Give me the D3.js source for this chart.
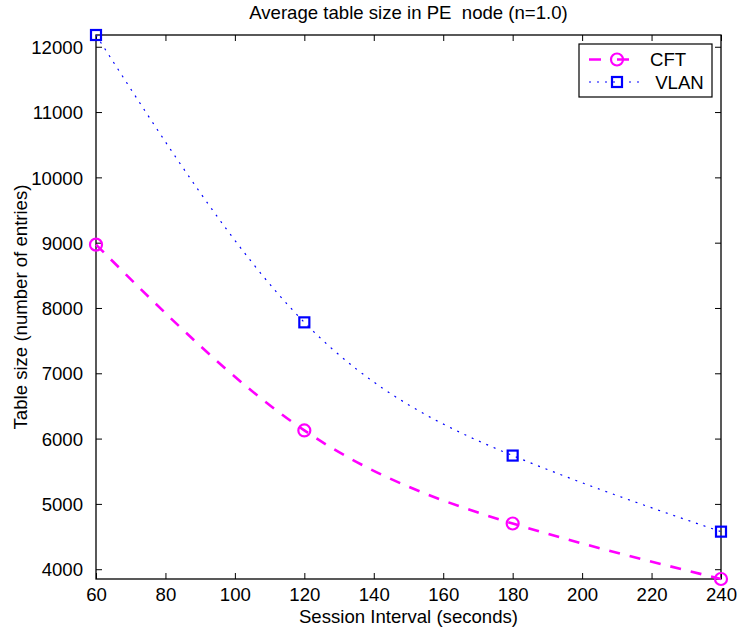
<!DOCTYPE html>
<html>
<head>
<meta charset="utf-8">
<script src="https://cdn.jsdelivr.net/npm/d3@7"></script>
<style>
  html, body { margin: 0; padding: 0; background: #fff; }
  svg { display: block; }
  text { font-family: "Liberation Sans", Arial, Helvetica, sans-serif; fill: #000; white-space: pre; }
</style>
</head>
<body>
<svg id="chart" width="738" height="634"></svg>
<script>
// ---- data ----
const sessionIntervals = [60, 120, 180, 240];
const cftValues  = [8970, 6125, 4700, 3850];
const vlanValues = [12180, 7780, 5740, 4575];
const seriesNames = ["CFT", " VLAN"];
const xTicks = [60, 80, 100, 120, 140, 160, 180, 200, 220, 240];
const yTicks = [4000, 5000, 6000, 7000, 8000, 9000, 10000, 11000, 12000];
const titleText = "Average table size in PE  node (n=1.0)";
const xLabelText = "Session Interval (seconds)";
const yLabelText = "Table size (number of entries)";

// ---- layout ----
const W = 738, H = 634;
const m = { left: 96, top: 35, right: 17, bottom: 55 };
const iw = W - m.left - m.right, ih = H - m.top - m.bottom;

const svg = d3.select("#chart");
const g = svg.append("g").attr("transform", `translate(${m.left},${m.top})`);

const x = d3.scaleLinear().domain([60, 240]).range([0, iw]);
const y = d3.scaleLinear().domain([d3.min(cftValues), d3.max(vlanValues)]).range([ih, 0]);

const fs = 18.6;
const tickLen = 6;

// axes (inward ticks on all four sides)
const axB = g.append("g").attr("transform", `translate(0,${ih})`)
  .call(d3.axisBottom(x).tickValues(xTicks).tickSizeInner(-tickLen).tickSizeOuter(0).tickPadding(9));
const axT = g.append("g")
  .call(d3.axisTop(x).tickValues(xTicks).tickSizeInner(-tickLen).tickSizeOuter(0).tickFormat(""));
const axL = g.append("g")
  .call(d3.axisLeft(y).tickValues(yTicks).tickSizeInner(-tickLen).tickSizeOuter(0).tickPadding(13).tickFormat(d3.format("d")));
const axR = g.append("g").attr("transform", `translate(${iw},0)`)
  .call(d3.axisRight(y).tickValues(yTicks).tickSizeInner(-tickLen).tickSizeOuter(0).tickFormat(""));

[axB, axT, axL, axR].forEach(a => {
  a.select(".domain").remove();
  a.selectAll(".tick line").attr("stroke", "#000").attr("stroke-width", 1);
  a.selectAll(".tick text").attr("font-size", fs).attr("fill", "#000")
    .style("font-family", '"Liberation Sans", Arial, sans-serif');
});
axB.selectAll(".tick text").attr("dy", "0.71em");
axL.selectAll(".tick text").attr("dy", "0.36em");

// box
g.append("rect").attr("x", 0).attr("y", 0).attr("width", iw).attr("height", ih)
  .attr("fill", "none").attr("stroke", "#000").attr("stroke-width", 1.3);

// lines
const cftData = sessionIntervals.map((d, i) => [d, cftValues[i]]);
const vlanData = sessionIntervals.map((d, i) => [d, vlanValues[i]]);
const line = d3.line().x(d => x(d[0])).y(d => y(d[1])).curve(d3.curveNatural);

g.append("path").datum(cftData).attr("d", line)
  .attr("fill", "none").attr("stroke", "#ff00ff").attr("stroke-width", 2.6)
  .attr("stroke-dasharray", "11,10");
g.append("path").datum(vlanData).attr("d", line)
  .attr("fill", "none").attr("stroke", "#0000ff").attr("stroke-width", 1.2)
  .attr("stroke-dasharray", "2,6");

// markers
g.selectAll(".cftm").data(cftData).join("circle")
  .attr("cx", d => x(d[0])).attr("cy", d => y(d[1])).attr("r", 6)
  .attr("fill", "none").attr("stroke", "#ff00ff").attr("stroke-width", 2.2);
const sq = 10;
g.selectAll(".vlanm").data(vlanData).join("rect")
  .attr("x", d => x(d[0]) - sq / 2).attr("y", d => y(d[1]) - sq / 2)
  .attr("width", sq).attr("height", sq)
  .attr("fill", "none").attr("stroke", "#0000ff").attr("stroke-width", 2.2);

// title & labels
svg.append("text").attr("x", m.left + iw / 2).attr("y", 19)
  .attr("text-anchor", "middle").attr("font-size", fs).text(titleText);
svg.append("text").attr("x", m.left + iw / 2).attr("y", 623)
  .attr("text-anchor", "middle").attr("font-size", fs).text(xLabelText);
svg.append("text").attr("transform", `translate(27,${m.top + ih / 2}) rotate(-90)`)
  .attr("text-anchor", "middle").attr("font-size", fs).text(yLabelText);

// legend
const lg = svg.append("g").attr("transform", "translate(579,44)");
lg.append("rect").attr("x", 0).attr("y", 0).attr("width", 133).attr("height", 53)
  .attr("fill", "#fff").attr("stroke", "#000").attr("stroke-width", 1.2);
const rows = [
  { name: seriesNames[0], color: "#ff00ff", sw: 2.6, marker: "circle" },
  { name: seriesNames[1], color: "#0000ff", sw: 1.2, marker: "square" }
];
rows.forEach((r, i) => {
  const cy = 15.5 + i * 22.5;
  lg.append("line").attr("x1", 10).attr("x2", 66).attr("y1", cy).attr("y2", cy)
    .attr("stroke", r.color).attr("stroke-width", r.sw)
    .attr("stroke-dasharray", r.marker === "circle" ? "12,16" : "2,6");
  if (r.marker === "circle") {
    lg.append("circle").attr("cx", 38).attr("cy", cy).attr("r", 6)
      .attr("fill", "none").attr("stroke", r.color).attr("stroke-width", 2.2);
  } else {
    lg.append("rect").attr("x", 38 - sq / 2).attr("y", cy - sq / 2).attr("width", sq).attr("height", sq)
      .attr("fill", "none").attr("stroke", r.color).attr("stroke-width", 2.2);
  }
  lg.append("text").attr("x", 71).attr("y", cy).attr("dy", "0.36em")
    .attr("font-size", fs).text(r.name);
});
</script>
</body>
</html>
